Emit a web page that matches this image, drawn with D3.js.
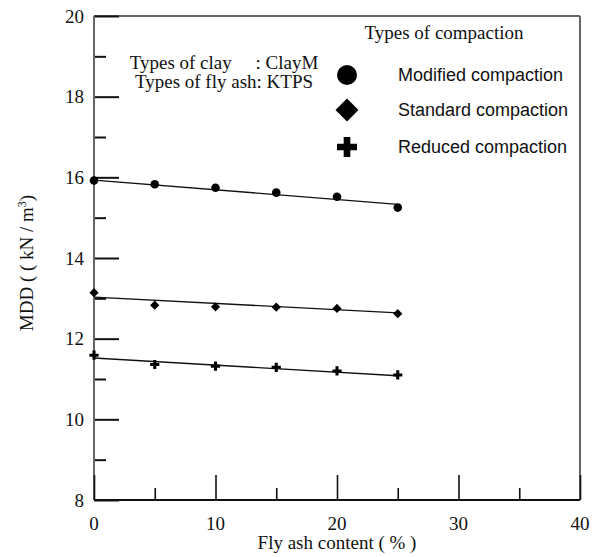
<!DOCTYPE html>
<html>
<head>
<meta charset="utf-8">
<script src="https://cdn.jsdelivr.net/npm/d3@7"></script>
<style>
  html, body { margin: 0; padding: 0; background: #fff; }
  svg { display: block; }
  .serif { font-family: "Liberation Serif", "Times New Roman", serif; fill: #111; }
  .sans { font-family: "Liberation Sans", Arial, sans-serif; fill: #111; }
</style>
</head>
<body>
<svg id="chart" width="602" height="557"></svg>
<script>
// Fly ash content (%) at which MDD was measured
const flyAsh = [0, 5, 10, 15, 20, 25];

// Maximum dry density (kN/m^3) per compaction effort
const modified = [15.92, 15.83, 15.74, 15.62, 15.52, 15.25];
const standard = [13.14, 12.83, 12.79, 12.78, 12.75, 12.62];
const reduced  = [11.59, 11.36, 11.32, 11.29, 11.20, 11.10];

// Trend line end values at 0 % and 25 % fly ash
const fitX = [0, 25];
const modifiedFit = [15.93, 15.33];
const standardFit = [13.03, 12.64];
const reducedFit  = [11.52, 11.08];

const seriesNames = ["Modified compaction", "Standard compaction", "Reduced compaction"];

const xTicks = [0, 10, 20, 30, 40];
const xMinorTicks = [5, 15, 25, 35];
const yTicks = [8, 10, 12, 14, 16, 18, 20];
const yMinorTicks = [9, 11, 13, 15, 17, 19];

const svg = d3.select("#chart");
const plotLeft = 94, plotRight = 580, plotTop = 16, plotBottom = 500;

const x = d3.scaleLinear().domain([0, 40]).range([plotLeft, plotRight]);
const y = d3.scaleLinear().domain([8, 20]).range([plotBottom, plotTop]);

// Symbol generators for each compaction type
const markerTypes = [d3.symbolCircle, d3.symbolSquare, d3.symbolCross];
const markerRotate = [0, 45, 0];

function marker(i, r) {
  // r is roughly the half-width of the drawn mark
  let size;
  if (i === 0) size = Math.PI * r * r;
  else if (i === 1) size = Math.pow(r * Math.SQRT2, 2);
  else size = Math.pow(2 * r, 2) * 5 / 9;
  return d3.symbol().type(markerTypes[i]).size(size)();
}

// Frame: top and right sides
svg.append("line").attr("x1", plotLeft).attr("x2", plotRight).attr("y1", plotTop).attr("y2", plotTop)
  .attr("stroke", "#666").attr("stroke-width", 2);
svg.append("line").attr("x1", plotRight).attr("x2", plotRight).attr("y1", plotTop).attr("y2", plotBottom)
  .attr("stroke", "#666").attr("stroke-width", 2);

// Left axis: ticks pointing into the plot
const yAxisMajor = d3.axisRight(y).tickValues(yTicks).tickSize(25).tickFormat("");
const gy = svg.append("g").attr("transform", `translate(${plotLeft},0)`).call(yAxisMajor);
gy.select(".domain").remove();
gy.selectAll(".tick line").attr("stroke", "#111").attr("stroke-width", 2);

const yAxisMinor = d3.axisRight(y).tickValues(yMinorTicks).tickSize(12).tickFormat("");
const gy2 = svg.append("g").attr("transform", `translate(${plotLeft},0)`).call(yAxisMinor);
gy2.select(".domain").remove();
gy2.selectAll(".tick line").attr("stroke", "#111").attr("stroke-width", 2);

svg.append("line").attr("x1", plotLeft).attr("x2", plotLeft).attr("y1", plotTop).attr("y2", plotBottom)
  .attr("stroke", "#666").attr("stroke-width", 2);

// Left axis labels
svg.append("g").selectAll("text").data(yTicks).join("text")
  .attr("class", "serif")
  .attr("x", plotLeft - 10).attr("y", d => y(d)).attr("dy", "0.35em")
  .attr("text-anchor", "end").attr("font-size", 19)
  .text(d => d);

// Bottom axis: ticks pointing up into the plot
const xAxisMajor = d3.axisTop(x).tickValues(xTicks).tickSize(25).tickFormat("");
const gx = svg.append("g").attr("transform", `translate(0,${plotBottom})`).call(xAxisMajor);
gx.select(".domain").remove();
gx.selectAll(".tick line").attr("stroke", "#111").attr("stroke-width", 1.6);

const xAxisMinor = d3.axisTop(x).tickValues(xMinorTicks).tickSize(12).tickFormat("");
const gx2 = svg.append("g").attr("transform", `translate(0,${plotBottom})`).call(xAxisMinor);
gx2.select(".domain").remove();
gx2.selectAll(".tick line").attr("stroke", "#111").attr("stroke-width", 1.6);

svg.append("line").attr("x1", plotLeft).attr("x2", plotRight).attr("y1", plotBottom).attr("y2", plotBottom)
  .attr("stroke", "#111").attr("stroke-width", 2);

svg.append("g").selectAll("text").data(xTicks).join("text")
  .attr("class", "serif")
  .attr("x", d => x(d)).attr("y", plotBottom + 23).attr("dy", "0.35em")
  .attr("text-anchor", "middle").attr("font-size", 19)
  .text(d => d);

// Axis titles
svg.append("text").attr("class", "serif")
  .attr("x", (plotLeft + plotRight) / 2).attr("y", plotBottom + 49)
  .attr("text-anchor", "middle").attr("font-size", 19)
  .text("Fly ash content ( % )");

const yTitle = svg.append("text").attr("class", "serif")
  .attr("transform", `translate(33,${(plotTop + plotBottom) / 2 + 5}) rotate(-90)`)
  .attr("text-anchor", "middle").attr("font-size", 19);
yTitle.append("tspan").text("MDD ( ( kN / m");
yTitle.append("tspan").attr("font-size", 12).attr("dy", -7).text("3");
yTitle.append("tspan").attr("dy", 7).text(")");

// Trend lines
const fits = [modifiedFit, standardFit, reducedFit];
const line = d3.line().x(d => x(d[0])).y(d => y(d[1]));
fits.forEach(f => {
  svg.append("path")
    .attr("d", line(fitX.map((xv, i) => [xv, f[i]])))
    .attr("fill", "none").attr("stroke", "#111").attr("stroke-width", 1.4);
});

// Measured points
const series = [modified, standard, reduced];
series.forEach((vals, si) => {
  svg.append("g").selectAll("path").data(flyAsh.map((xv, i) => [xv, vals[i]])).join("path")
    .attr("d", marker(si, si === 0 ? 4.3 : 4.6))
    .attr("transform", d => `translate(${x(d[0])},${y(d[1])}) rotate(${markerRotate[si]})`)
    .attr("fill", "#000");
});

// Annotation of materials
const note = svg.append("g").attr("class", "serif").attr("font-size", 19).attr("text-anchor", "middle");
note.append("text").attr("x", 224).attr("y", 69).attr("xml:space", "preserve")
  .text("Types of clay     : ClayM");
note.append("text").attr("x", 224).attr("y", 88).text("Types of fly ash: KTPS");

// Legend
svg.append("text").attr("class", "serif")
  .attr("x", 444).attr("y", 39).attr("text-anchor", "middle").attr("font-size", 19)
  .text("Types of compaction");

const legendY = [75, 110, 147];
seriesNames.forEach((name, i) => {
  svg.append("path")
    .attr("d", marker(i, i === 0 ? 10 : (i === 1 ? 11.5 : 10)))
    .attr("transform", `translate(347,${legendY[i]}) rotate(${markerRotate[i]})`)
    .attr("fill", "#000");
  svg.append("text").attr("class", "sans")
    .attr("x", 398).attr("y", legendY[i]).attr("dy", "0.35em")
    .attr("font-size", 18)
    .text(name);
});
</script>
</body>
</html>
